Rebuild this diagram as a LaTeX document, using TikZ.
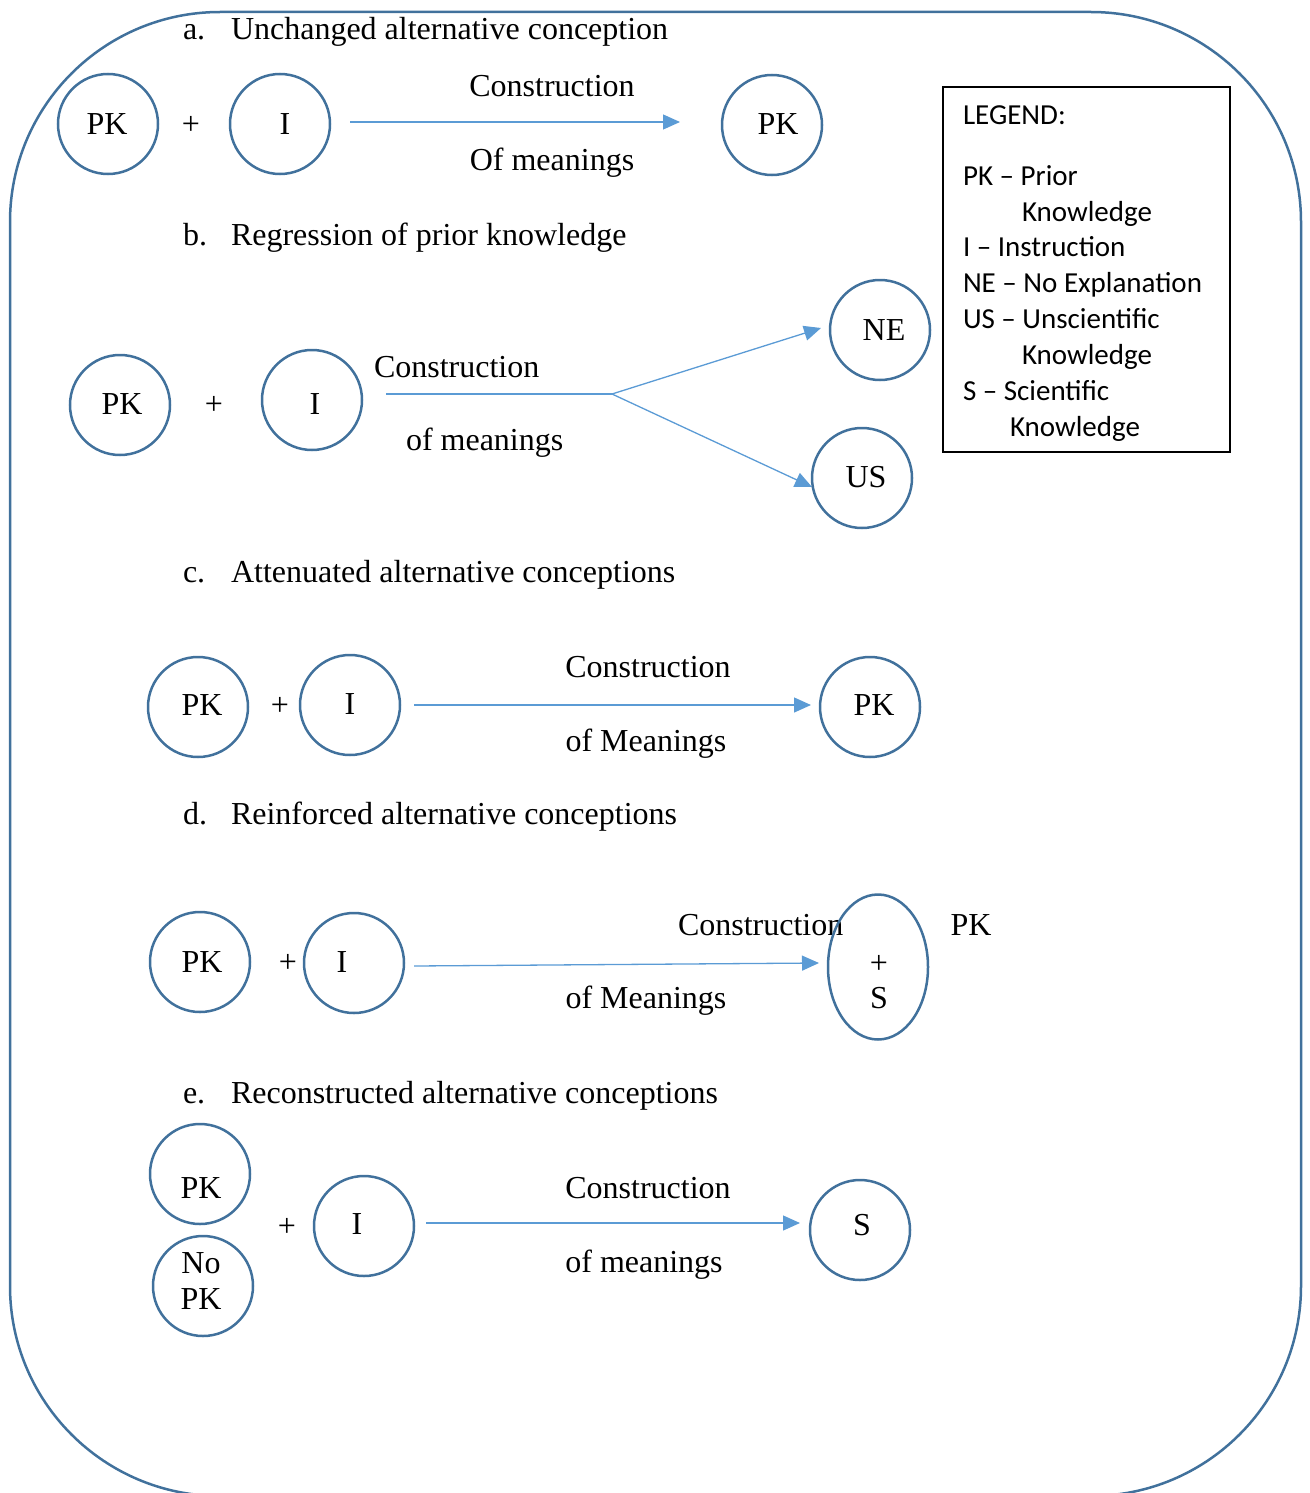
\documentclass[tikz,border=0pt]{standalone}
\usepackage{fontspec}
\setmainfont{Liberation Serif}
\newfontfamily\legendfont{Carlito}
\usetikzlibrary{arrows.meta,shapes.geometric}
\definecolor{ring}{HTML}{41719C}
\definecolor{arr}{HTML}{5B9BD5}
\begin{document}
\begin{tikzpicture}[x=0.5pt,y=-0.5pt,
  every node/.style={font=\fontsize{16}{19}\selectfont, inner sep=0pt, outer sep=0pt},
  circ/.style={circle, draw=ring, line width=1.25pt, minimum size=50pt},
  conn/.style={draw=arr, line width=0.65pt},
  arrowc/.style={conn, -{Triangle[length=8.5pt,width=7.5pt]}},
  lbl/.style={anchor=base},
  lblw/.style={anchor=base west},
  leg/.style={anchor=base west, font=\legendfont\fontsize{14.5}{17}\selectfont}]
\useasboundingbox (0,0) rectangle (1310,1493);
\begin{scope}
\clip (0,0) rectangle (1310,1493);
\draw[ring, line width=1.25pt, rounded corners=105pt] (10,12) rectangle (1301,1496);
\end{scope}

% ---------- a ----------
\node[lblw] (ta) at (183,40) {a.};
\node[lblw] (tat) at (231,40) {Unchanged alternative conception};
\node[circ] (a1) at (108,124) {};
\node (a1t) at (107,124) {PK};
\node (ap) at (191,125) {+};
\node[circ] (a2) at (280,124) {};
\node (a2t) at (285,124) {I};
\coordinate (as) at (350,122);
\coordinate (ae) at (680,122);
\draw[arrowc] (as) -- (ae);
\node[lbl] (ac) at (552,97) {Construction};
\node[lbl] (ao) at (552,170) {Of meanings};
\node[circ] (a3) at (772,125) {};
\node (a3t) at (778,124) {PK};

% ---------- legend ----------
\node[draw, line width=0.6pt, minimum width=143.5pt, minimum height=182.5pt, anchor=north west] (legbox) at (943,87) {};
\node[leg] (l1) at (963,125) {LEGEND:};
\node[leg] (l2) at (963,185) {PK – Prior};
\node[leg] (l3) at (1022,221) {Knowledge};
\node[leg] (l4) at (963,256) {I – Instruction};
\node[leg] (l5) at (963,292) {NE – No Explanation};
\node[leg] (l6) at (963,328) {US – Unscientific};
\node[leg] (l7) at (1022,364) {Knowledge};
\node[leg] (l8) at (963,400) {S – Scientific};
\node[leg] (l9) at (1010,436) {Knowledge};

% ---------- b ----------
\node[lblw] (tb) at (183,245) {b.};
\node[lblw] (tbt) at (231,245) {Regression of prior knowledge};
\node[circ] (b1) at (120,405) {};
\node (b1t) at (122,404) {PK};
\node (bp) at (214,405) {+};
\node[circ] (b2) at (312,400) {};
\node (b2t) at (315,404) {I};
\node[lblw] (bc) at (374,377) {Construction};
\node[lblw] (bo) at (406,450) {of meanings};
\coordinate (bs) at (386,394);
\coordinate (bj) at (612,394);
\coordinate (bne) at (821,328);
\coordinate (bus) at (812,487);
\draw[conn] (bs) -- (bj);
\draw[arrowc] (bj) -- (bne);
\draw[arrowc] (bj) -- (bus);
\node[circ] (b3) at (880,330) {};
\node (b3t) at (884,330) {NE};
\node[circ] (b4) at (862,478) {};
\node (b4t) at (866,477) {US};

% ---------- c ----------
\node[lblw] (tc) at (183,582) {c.};
\node[lblw] (tct) at (231,582) {Attenuated alternative conceptions};
\node[circ] (c1) at (198,707) {};
\node (c1t) at (202,705) {PK};
\node (cp) at (280,706) {+};
\node[circ] (c2) at (350,705) {};
\node (c2t) at (350,704) {I};
\coordinate (cs) at (414,705);
\coordinate (ce) at (811,705);
\draw[arrowc] (cs) -- (ce);
\node[lbl] (cc) at (648,677) {Construction};
\node[lbl] (co) at (646,751) {of Meanings};
\node[circ] (c3) at (870,707) {};
\node (c3t) at (874,705) {PK};

% ---------- d ----------
\node[lblw] (td) at (183,824) {d.};
\node[lblw] (tdt) at (231,824) {Reinforced alternative conceptions};
\node[circ] (d1) at (200,962) {};
\node (d1t) at (202,962) {PK};
\node (dp) at (288,963) {+};
\node[circ] (d2) at (354,963) {};
\node (d2t) at (342,962) {I};
\coordinate (ds) at (414,966);
\coordinate (de) at (819,963);
\draw[arrowc] (ds) -- (de);
\node[lblw] (dc) at (678,935) {Construction};
\node[lbl] (do) at (646,1008) {of Meanings};
\node[ellipse, draw=ring, line width=1.25pt, minimum width=50pt, minimum height=72.5pt] (d3) at (878,967) {};
\node (d3p) at (879,964) {+};
\node[lbl] (d3s) at (879,1008) {S};
\node[lbl] (dpk) at (971,935) {PK};

% ---------- e ----------
\node[lblw] (te) at (183,1103) {e.};
\node[lblw] (tet) at (231,1103) {Reconstructed alternative conceptions};
\node[circ] (e1) at (200,1174) {};
\node[lbl] (e1t) at (201,1198) {PK};
\node[circ] (e0) at (203,1286) {};
\node[lbl] (e0a) at (201,1273) {No};
\node[lbl] (e0b) at (201,1309) {PK};
\node (ep) at (287,1227) {+};
\node[circ] (e2) at (364,1226) {};
\node (e2t) at (357,1224) {I};
\coordinate (es) at (426,1223);
\coordinate (ee) at (800,1223);
\draw[arrowc] (es) -- (ee);
\node[lbl] (ec) at (648,1198) {Construction};
\node[lbl] (eo) at (644,1272) {of meanings};
\node[circ] (e3) at (860,1230) {};
\node (e3t) at (862,1225) {S};
\end{tikzpicture}
\end{document}
